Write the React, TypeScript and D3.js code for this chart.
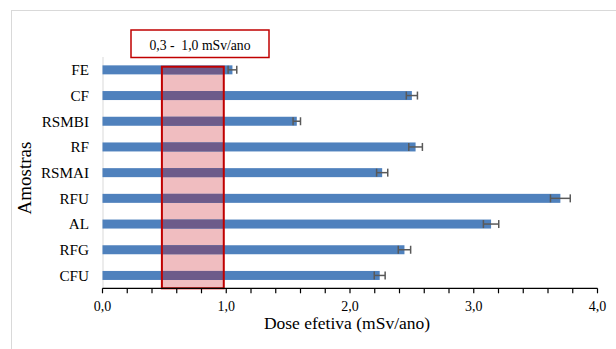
import React from "react";
import * as d3 from "d3";

const categories = ["FE", "CF", "RSMBI", "RF", "RSMAI", "RFU", "AL", "RFG", "CFU"];
const doses = [1.05, 2.5, 1.57, 2.53, 2.26, 3.7, 3.14, 2.44, 2.24];
const errors = [0.035, 0.045, 0.03, 0.055, 0.045, 0.08, 0.062, 0.05, 0.044];
const xTicks = [0, 1, 2, 3, 4];
const minorTicks = d3.range(0, 4.0001, 0.2);
const rangeBand = [0.48, 0.98];
const rangeLabel = "0,3 -  1,0 mSv/ano";
const xTitle = "Dose efetiva (mSv/ano)";
const yTitle = "Amostras";

const W = 616;
const H = 349;
const left = 102.5;
const right = 597.5;
const top = 57;
const bottom = 288.3;

const serif = "Liberation Serif, Times New Roman, serif";
const txt = { fontFamily: serif } as React.CSSProperties;

export default function App() {
  const x = d3.scaleLinear().domain([0, 4]).range([left, right]);
  const y = d3.scaleBand<string>().domain(categories).range([top, bottom]).paddingInner(0.65).paddingOuter(0.325);
  const bw = y.bandwidth();
  const rx0 = x(rangeBand[0]);
  const rx1 = x(rangeBand[1]);
  const fmt = (v: number) => v.toFixed(1).replace(".", ",");
  const rectTop = 66.7;

  return (
    <svg width={W} height={H} style={{ position: "absolute", left: 0, top: 0, fontFamily: serif }}>
      <defs>
        <clipPath id="bandClip">
          <rect x={rx0} y={rectTop} width={rx1 - rx0} height={bottom - rectTop} />
        </clipPath>
      </defs>
      <rect x={0} y={0} width={W} height={H} fill="#fff" />
      {/* outer chart border */}
      <line x1={11} y1={10.5} x2={W} y2={10.5} stroke="#d9d9d9" strokeWidth={1} />
      <line x1={11.5} y1={10} x2={11.5} y2={H} stroke="#d9d9d9" strokeWidth={1} />

      {/* y axis line */}
      <line x1={left + 0.5} y1={top} x2={left + 0.5} y2={bottom} stroke="#d9d9d9" strokeWidth={1} />

      {/* pink range fill */}
      <rect x={rx0} y={rectTop} width={rx1 - rx0} height={bottom - rectTop} fill="#f0bdc0" />

      {/* bars */}
      {categories.map((c, i) => (
        <rect key={c} x={x(0)} y={y(c)!} width={x(doses[i]) - x(0)} height={bw} fill="#4f81bd" />
      ))}
      {/* bar portions inside pink range */}
      <g clipPath="url(#bandClip)">
        {categories.map((c, i) => (
          <rect key={c} x={x(0)} y={y(c)!} width={x(doses[i]) - x(0)} height={bw} fill="#6d5b8a" />
        ))}
      </g>

      {/* error bars */}
      {categories.map((c, i) => {
        const cy = y(c)! + bw / 2;
        const a = x(doses[i] - errors[i]);
        const b = x(doses[i] + errors[i]);
        return (
          <g key={c} stroke="#595959" strokeWidth={1.5}>
            <line x1={a} y1={cy} x2={b} y2={cy} />
            <line x1={a} y1={cy - 4} x2={a} y2={cy + 4} />
            <line x1={b} y1={cy - 4} x2={b} y2={cy + 4} />
          </g>
        );
      })}

      {/* red range outline */}
      <rect x={rx0} y={rectTop} width={rx1 - rx0} height={bottom - rectTop} fill="none" stroke="#c00000" strokeWidth={2} />

      {/* x axis */}
      <line x1={left} y1={bottom} x2={right} y2={bottom} stroke="#000" strokeWidth={1.2} />
      {minorTicks.map((t, i) => (
        <line key={i} x1={x(t)} y1={bottom} x2={x(t)} y2={bottom + 5} stroke="#000" strokeWidth={1.2} />
      ))}
      {xTicks.map((t) => (
        <text key={t} x={x(t)} y={310.5} textAnchor="middle" fontSize={14} fill="#000" style={txt}>
          {fmt(t)}
        </text>
      ))}

      {/* category labels */}
      {categories.map((c) => (
        <text key={c} x={89} y={y(c)! + bw / 2 + 5.3} textAnchor="end" fontSize={15.2} fill="#000" style={txt}>
          {c}
        </text>
      ))}

      {/* axis titles */}
      <text x={347} y={329} textAnchor="middle" fontSize={17.5} fill="#000" style={txt}>
        {xTitle}
      </text>
      <text transform={`translate(31,178) rotate(-90)`} textAnchor="middle" fontSize={19} fill="#000" style={txt}>
        {yTitle}
      </text>

      {/* range label box */}
      <rect x={131} y={30} width={138} height={27.5} fill="#fff" stroke="#c00000" strokeWidth={1.5} />
      <text x={200} y={49.5} textAnchor="middle" fontSize={13.7} fill="#000" style={{ ...txt, whiteSpace: "pre" }}>
        {rangeLabel}
      </text>
    </svg>
  );
}
